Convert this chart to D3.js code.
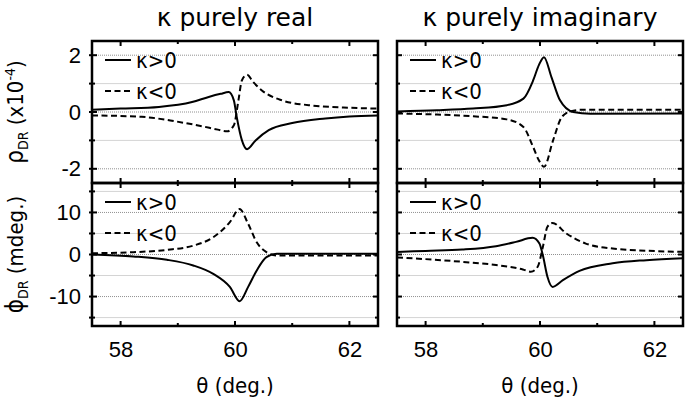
<!DOCTYPE html>
<html lang="en">
<head>
  <meta charset="UTF-8">
  <title>Dichroic reflectance vs angle</title>
  <script src="https://d3js.org/d3.v7.min.js"></script>
  <style>
    body { margin: 0; background: #fff; }
    svg { font-family: "DejaVu Sans Condensed", "DejaVu Sans", Verdana, sans-serif; }
  </style>
</head>
<body>
  <svg id="chart" width="685" height="400"></svg>

  <script>
    // Values: [theta (deg), value]
    const rhoRealPos = [[57.5,0.08],[58.0,0.12],[58.67,0.18],[59.25,0.35],[59.54,0.53],[59.75,0.64],[59.89,0.70],[59.98,0.41],[60.03,-0.17],[60.12,-0.99],[60.21,-1.31],[60.36,-1.0],[60.59,-0.64],[61.0,-0.39],[61.58,-0.23],[62.0,-0.16],[62.5,-0.12]];
    const rhoRealNeg = [[57.5,-0.12],[58.37,-0.17],[58.96,-0.33],[59.42,-0.50],[59.7,-0.62],[59.86,-0.68],[59.98,-0.47],[60.06,0.41],[60.12,1.11],[60.21,1.31],[60.32,1.05],[60.47,0.76],[60.82,0.41],[61.29,0.24],[62.0,0.15],[62.5,0.12]];
    const rhoImagPos = [[57.5,0.02],[58.2,0.06],[58.83,0.12],[59.42,0.24],[59.71,0.47],[59.88,1.11],[59.98,1.65],[60.07,1.93],[60.2,1.23],[60.35,0.41],[60.58,0.0],[60.88,-0.06],[62.5,-0.05]];
    const rhoImagNeg = [[57.5,-0.05],[58.2,-0.09],[58.83,-0.15],[59.42,-0.26],[59.71,-0.53],[59.88,-1.23],[59.98,-1.7],[60.07,-1.93],[60.23,-0.99],[60.38,-0.18],[60.53,0.02],[60.75,0.08],[62.5,0.08]];
    const phiRealPos = [[57.5,0.0],[58.22,-0.47],[58.81,-1.26],[59.27,-2.6],[59.62,-4.6],[59.91,-7.7],[60.08,-11.1],[60.23,-7.7],[60.38,-3.8],[60.55,-0.63],[60.73,0.15],[61.5,0.15],[62.5,0.15]];
    const phiRealNeg = [[57.5,0.3],[58.22,0.55],[58.81,1.1],[59.27,2.1],[59.62,4.1],[59.91,7.7],[60.08,10.8],[60.23,7.3],[60.38,2.9],[60.55,0.55],[60.73,-0.24],[62.5,-0.24]];
    const phiImagPos = [[57.5,0.6],[58.0,0.85],[58.64,1.18],[59.23,1.98],[59.58,3.0],[59.87,3.96],[59.99,2.6],[60.05,-0.2],[60.13,-5.3],[60.22,-7.7],[60.4,-6.1],[60.69,-3.9],[61.27,-2.1],[61.86,-1.34],[62.5,-0.87]];
    const phiImagNeg = [[57.5,-0.7],[58.0,-1.1],[58.64,-1.74],[59.23,-2.5],[59.7,-3.55],[59.84,-4.1],[59.96,-2.9],[60.05,1.8],[60.13,6.6],[60.22,7.5],[60.46,5.0],[60.8,2.6],[61.27,1.42],[61.86,0.9],[62.5,0.63]];

    const xTicks = [58, 60, 62];
    const xMinor = [59, 61];
    const rhoTicks = [-2, 0, 2];
    const rhoMinor = [-1, 1];
    const phiTicks = [-10, 0, 10];
    const phiMinor = [-15, -5, 5, 15];
    const colTitles = ["\u03BA purely real", "\u03BA purely imaginary"];
    const legendLabels = ["\u03BA>0", "\u03BA<0"];

    const svg = d3.select("#chart");

    const cols = [{ x0: 92, x1: 378 }, { x0: 397, x1: 683 }];
    const rows = [
      { y0: 41, y1: 183, domain: [-2.5, 2.5], major: rhoTicks, minor: rhoMinor,
        series: [[rhoRealPos, rhoRealNeg], [rhoImagPos, rhoImagNeg]] },
      { y0: 183, y1: 326, domain: [-17, 17], major: phiTicks, minor: phiMinor,
        series: [[phiRealPos, phiRealNeg], [phiImagPos, phiImagNeg]] }
    ];

    rows.forEach((row, ri) => {
      cols.forEach((col, ci) => {
        const x = d3.scaleLinear().domain([57.5, 62.5]).range([col.x0, col.x1]);
        const y = d3.scaleLinear().domain(row.domain).range([row.y1, row.y0]);
        const g = svg.append("g");

        // grid lines
        g.selectAll(".minor-grid").data(row.minor).enter().append("line")
          .attr("x1", col.x0).attr("x2", col.x1)
          .attr("y1", d => y(d)).attr("y2", d => y(d))
          .attr("stroke", "#d4d4d4").attr("stroke-width", 1);
        g.selectAll(".major-grid").data(row.major).enter().append("line")
          .attr("x1", col.x0).attr("x2", col.x1)
          .attr("y1", d => y(d)).attr("y2", d => y(d))
          .attr("stroke", "#909090").attr("stroke-width", 1)
          .attr("stroke-dasharray", "1,1");

        // curves
        const line = d3.line()
          .x(d => x(d[0]))
          .y(d => y(d[1]))
          .curve(d3.curveMonotoneX);

        const [pos, neg] = row.series[ci];
        g.append("path").datum(neg)
          .attr("fill", "none").attr("stroke", "#000").attr("stroke-width", 2)
          .attr("stroke-dasharray", "6,3.5")
          .attr("d", line);
        g.append("path").datum(pos)
          .attr("fill", "none").attr("stroke", "#000").attr("stroke-width", 2)
          .attr("d", line);

        // ticks (inward) on all sides
        const tickG = g.append("g").attr("stroke", "#000").attr("stroke-width", 2);
        const xAll = xTicks.map(v => [v, 5]).concat(xMinor.map(v => [v, 3]));
        // bottom
        tickG.selectAll(".xb").data(xAll).enter().append("line")
          .attr("x1", d => x(d[0])).attr("x2", d => x(d[0]))
          .attr("y1", row.y1).attr("y2", d => row.y1 - d[1]);
        // top
        tickG.selectAll(".xt").data(xAll).enter().append("line")
          .attr("x1", d => x(d[0])).attr("x2", d => x(d[0]))
          .attr("y1", row.y0).attr("y2", d => row.y0 + d[1]);

        const yAll = row.major.map(v => [v, 5]).concat(row.minor.map(v => [v, 3]));
        const outL = ci === 0 ? 3 : 0;
        tickG.selectAll(".yl").data(yAll).enter().append("line")
          .attr("x1", col.x0 - outL).attr("x2", d => col.x0 + d[1])
          .attr("y1", d => y(d[0])).attr("y2", d => y(d[0]));
        tickG.selectAll(".yr").data(yAll).enter().append("line")
          .attr("x1", col.x1).attr("x2", d => col.x1 - d[1])
          .attr("y1", d => y(d[0])).attr("y2", d => y(d[0]));

        // frame
        g.append("rect")
          .attr("x", col.x0).attr("y", row.y0)
          .attr("width", col.x1 - col.x0).attr("height", row.y1 - row.y0)
          .attr("fill", "none").attr("stroke", "#000").attr("stroke-width", 2.5);

        // y tick labels (left column only)
        if (ci === 0) {
          const yAxis = d3.axisLeft(y).tickValues(row.major)
            .tickSize(0).tickPadding(11).tickFormat(d => String(d));
          const ya = svg.append("g").attr("transform", `translate(${col.x0},0)`).call(yAxis);
          ya.select(".domain").remove();
          ya.selectAll("text").attr("font-size", 22).attr("font-family", null).attr("fill", "#000");
        }

        // x tick labels (bottom row only)
        if (ri === 1) {
          const xAxis = d3.axisBottom(x).tickValues(xTicks)
            .tickSize(0).tickPadding(15).tickFormat(d => String(d));
          const xa = svg.append("g").attr("transform", `translate(0,${row.y1})`).call(xAxis);
          xa.select(".domain").remove();
          xa.selectAll("text").attr("font-size", 22).attr("font-family", null).attr("fill", "#000");

          svg.append("text")
            .attr("x", (col.x0 + col.x1) / 2).attr("y", 393)
            .attr("text-anchor", "middle").attr("font-size", 22)
            .text("\u03B8 (deg.)");
        }

        // legend
        const legY = ri === 0 ? [60, 91] : [202, 233];
        legendLabels.forEach((lab, li) => {
          g.append("line")
            .attr("x1", col.x0 + 13).attr("x2", col.x0 + 39)
            .attr("y1", legY[li]).attr("y2", legY[li])
            .attr("stroke", "#000").attr("stroke-width", 2)
            .attr("stroke-dasharray", li === 1 ? "6,3.5" : null);
          g.append("text")
            .attr("x", col.x0 + 44).attr("y", legY[li] + 8)
            .attr("font-size", 22)
            .text(lab);
        });

        // column titles
        if (ri === 0) {
          svg.append("text")
            .attr("x", (col.x0 + col.x1) / 2).attr("y", 26)
            .attr("text-anchor", "middle").attr("font-size", 25)
            .attr("font-family", "'DejaVu Sans', Verdana, sans-serif")
            .text(colTitles[ci]);
        }
      });
    });

    // y axis titles
    const rhoLabel = svg.append("text")
      .attr("transform", `translate(23,${(rows[0].y0 + rows[0].y1) / 2}) rotate(-90)`)
      .attr("text-anchor", "middle").attr("font-size", 22);
    rhoLabel.append("tspan").attr("font-size", 24).text("\u03C1");
    rhoLabel.append("tspan").attr("dy", 5).attr("font-size", 14).text("DR");
    rhoLabel.append("tspan").attr("dy", -5).text(" (x10");
    rhoLabel.append("tspan").attr("dy", -8).attr("font-size", 14).text("-4");
    rhoLabel.append("tspan").attr("dy", 8).text(")");

    const phiLabel = svg.append("text")
      .attr("transform", `translate(23,${(rows[1].y0 + rows[1].y1) / 2}) rotate(-90)`)
      .attr("text-anchor", "middle").attr("font-size", 22);
    phiLabel.append("tspan").attr("font-size", 24).text("\u03D5");
    phiLabel.append("tspan").attr("dy", 5).attr("font-size", 14).text("DR");
    phiLabel.append("tspan").attr("dy", -5).text(" (mdeg.)");
  </script>
</body>
</html>
